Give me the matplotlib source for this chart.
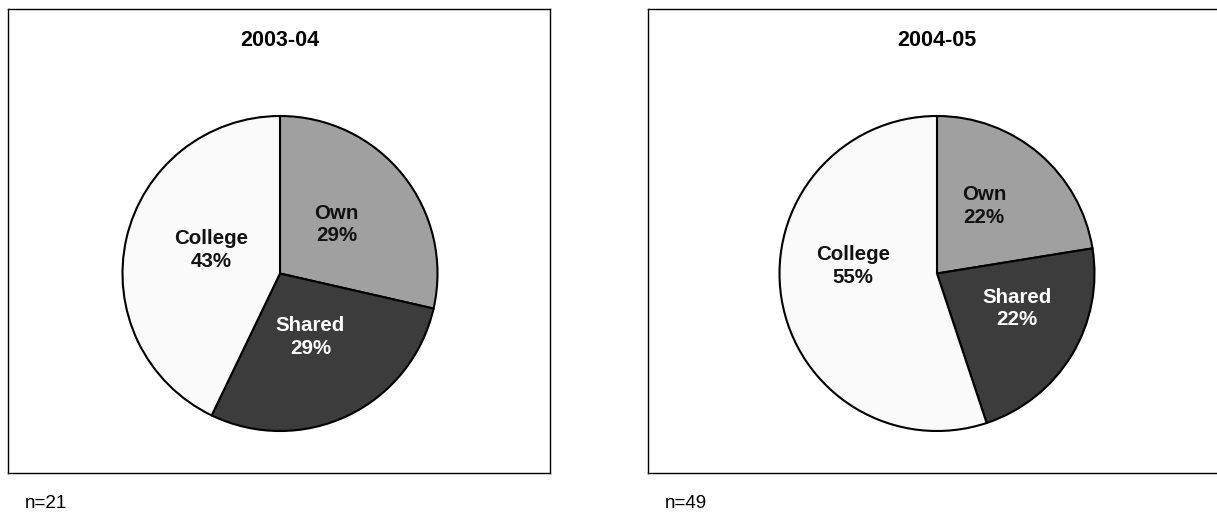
import matplotlib
matplotlib.use("Agg")
import matplotlib.pyplot as plt

plt.rcParams["font.family"] = ["Liberation Sans", "DejaVu Sans"]

# ===========================================

years = ["2003-04", "2004-05"]
categories = ["Own", "Shared", "College"]
own = [6, 11]
shared = [6, 11]
college = [9, 27]

colors = ["#a0a0a0", "#3c3c3c", "#fafafa"]
text_colors = ["#111111", "white", "#111111"]

# small hand nudges (px) for the in-slice labels, per pie
nudges = [
    [(-4, 1), (-3, 6), (6, 6)],
    [(-8, 3), (7, 9), (0, 21)],
]

# ===========================================

W, H = 1217, 512
fig = plt.figure(figsize=(W / 100, H / 100), dpi=100)

# box extents in pixels: (left, right), pie center x, label distance
boxes = [((8, 550), 280, 0.49), ((648, 1226), 937, 0.54)]
top, bottom = 9, 473
cy = 273.5
radius = 157.5

for i, year in enumerate(years):
    (x0, x1), cx, pdist = boxes[i]
    ax = fig.add_axes([x0 / W, 1 - bottom / H, (x1 - x0) / W, (bottom - top) / H])

    vals = [own[i], shared[i], college[i]]
    n = sum(vals)
    labels = iter(categories)

    def fmt(p, labels=labels):
        return f"{next(labels)}\n{p:.0f}%"

    wedges, _, autotexts = ax.pie(
        vals, colors=colors, startangle=90, counterclock=False,
        center=(cx - x0, bottom - cy), radius=radius, frame=True,
        autopct=fmt, pctdistance=pdist,
        wedgeprops=dict(edgecolor="black", linewidth=1.5),
        textprops=dict(fontsize=14.8, fontweight="bold", linespacing=1.25))
    for t, c, (dx, dy) in zip(autotexts, text_colors, nudges[i]):
        t.set_color(c)
        x, y = t.get_position()
        t.set_position((x + dx, y + dy))

    ax.set_xlim(0, x1 - x0)
    ax.set_ylim(0, bottom - top)
    ax.set_aspect("equal")
    ax.set_xticks([])
    ax.set_yticks([])
    for sp in ax.spines.values():
        sp.set_linewidth(1.0)
        sp.set_color("black")

    ax.text(cx - x0, bottom - 41, year, ha="center", va="center",
            fontsize=15.5, fontweight="bold")
    fig.text((x0 + 17) / W, 1 - 503 / H, f"n={n}", ha="left", va="center",
             fontsize=13.5)

fig.savefig("out.png", dpi=100)
